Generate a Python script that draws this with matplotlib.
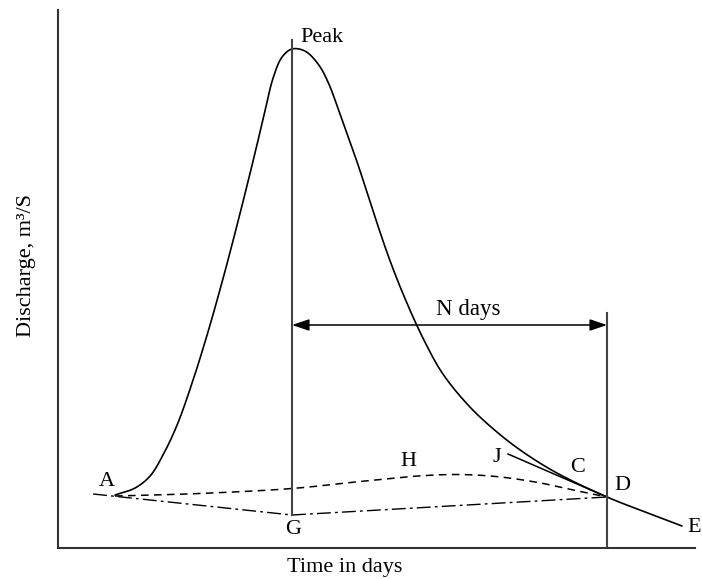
import numpy as np
import matplotlib
matplotlib.use('Agg')
import matplotlib.pyplot as plt

plt.rcParams['font.family'] = ['Liberation Serif', 'DejaVu Serif']

# ---- data (time in days, discharge) ----
hydro_t = [1.90, 2.57, 3.07, 3.50, 3.97, 4.47, 4.97, 5.47, 5.97, 6.47, 6.87, 7.17,
           7.47, 7.80, 8.23, 8.67, 9.00, 9.47, 9.97, 10.50, 11.07, 11.63, 12.23,
           12.83, 13.73, 14.63, 15.50, 16.63, 18.30, 19.57, 20.80]
hydro_q = [10.6, 12.0, 14.4, 18.6, 24.6, 33.0, 42.6, 53.2, 64.6, 76.6, 86.6, 94.0,
           98.2, 99.8, 99.4, 96.8, 93.2, 85.6, 77.2, 67.4, 57.4, 49.0, 41.2,
           34.8, 28.2, 23.2, 19.2, 15.0, 10.2, 7.2, 4.4]

base_dash_t = [1.90, 4.73, 7.80, 10.07, 12.00, 13.30, 14.60, 16.00, 17.17, 18.30]
base_dash_q = [10.4, 10.9, 11.9, 13.3, 14.4, 14.7, 14.3, 13.1, 11.6, 10.2]

base_dashdot_t = [1.17, 7.80, 18.30]
base_dashdot_q = [10.8, 6.6, 10.2]

recession_t = [15.0, 18.30]
recession_q = [18.8, 10.2]

peak_t = 7.80
peak_line_q = [6.6, 101.6]
end_t = 18.30
end_line_q = [0.0, 47.0]
arrow_q = 44.6

point_labels = ['A', 'G', 'H', 'J', 'C', 'D', 'E']
label_t = [1.63, 7.83, 11.67, 14.63, 17.33, 18.80, 21.20]
label_q = [13.2, 3.6, 17.2, 18.2, 16.2, 12.6, 4.2]

SX, SY = 30.0, 5.0  # pixels per day / per unit discharge


def smooth(t, q, n=30):
    """Centripetal Catmull-Rom drawing path through the read points."""
    P = np.column_stack([np.asarray(t, float) * SX, np.asarray(q, float) * SY])
    P = np.vstack([2 * P[0] - P[1], P, 2 * P[-1] - P[-2]])
    out = []
    for i in range(1, len(P) - 2):
        p0, p1, p2, p3 = P[i - 1], P[i], P[i + 1], P[i + 2]
        t0 = 0.0
        t1 = t0 + np.linalg.norm(p1 - p0) ** 0.5
        t2 = t1 + np.linalg.norm(p2 - p1) ** 0.5
        t3 = t2 + np.linalg.norm(p3 - p2) ** 0.5
        s = np.linspace(t1, t2, n, endpoint=False)[:, None]
        a1 = (t1 - s) / (t1 - t0) * p0 + (s - t0) / (t1 - t0) * p1
        a2 = (t2 - s) / (t2 - t1) * p1 + (s - t1) / (t2 - t1) * p2
        a3 = (t3 - s) / (t3 - t2) * p2 + (s - t2) / (t3 - t2) * p3
        b1 = (t2 - s) / (t2 - t0) * a1 + (s - t0) / (t2 - t0) * a2
        b2 = (t3 - s) / (t3 - t1) * a2 + (s - t1) / (t3 - t1) * a3
        c = (t2 - s) / (t2 - t1) * b1 + (s - t1) / (t2 - t1) * b2
        out.append(c)
    out.append(P[-2][None, :])
    out = np.vstack(out)
    return out[:, 0] / SX, out[:, 1] / SY


fig = plt.figure(figsize=(7.02, 5.79), dpi=100)
ax = fig.add_axes([58 / 702, 31 / 579, 637 / 702, 538 / 579])
ax.set_xlim(0, 637 / SX)
ax.set_ylim(0, 538 / SY)

for s in ['top', 'right']:
    ax.spines[s].set_visible(False)
for s in ['left', 'bottom']:
    ax.spines[s].set_color('#333333')
    ax.spines[s].set_linewidth(1.5)
ax.set_xticks([])
ax.set_yticks([])

st, sq = smooth(hydro_t, hydro_q)
ax.plot(st, sq, color='black', lw=1.2, solid_capstyle='round')

dt, dq = smooth(base_dash_t, base_dash_q)
ax.plot(dt, dq, color='black', lw=1.1, linestyle=(0, (5, 3.5)))

ax.plot(base_dashdot_t, base_dashdot_q, color='black', lw=1.0,
        linestyle=(0, (10, 3, 2, 3)))

ax.plot(recession_t, recession_q, color='black', lw=1.1)

ax.plot([peak_t, peak_t], peak_line_q, color='#444444', lw=1.5)
ax.plot([end_t, end_t], end_line_q, color='#444444', lw=1.5)

ax.annotate('', xy=(end_t, arrow_q), xytext=(peak_t, arrow_q),
            arrowprops=dict(arrowstyle='<|-|>,head_length=0.65,head_width=0.22',
                            color='black', lw=1.1,
                            mutation_scale=16, shrinkA=0, shrinkB=0))

fs = 16
ax.text(8.07, 102.2, 'Peak', fontsize=fs, ha='left', va='center')
ax.text(13.67, 47.6, 'N days', fontsize=16.5, ha='center', va='center')
for lab, t, q in zip(point_labels, label_t, label_q):
    ax.text(t, q, lab, fontsize=fs, ha='center', va='center')

ax.text((345 - 58) / 637, -0.037, 'Time in days', fontsize=fs, ha='center',
        va='center', transform=ax.transAxes)
ax.text(-0.05, 0.526, 'Discharge, m\u00b3/S', fontsize=fs, ha='center',
        va='center', rotation=90, transform=ax.transAxes)

fig.savefig('out.png', dpi=100)
